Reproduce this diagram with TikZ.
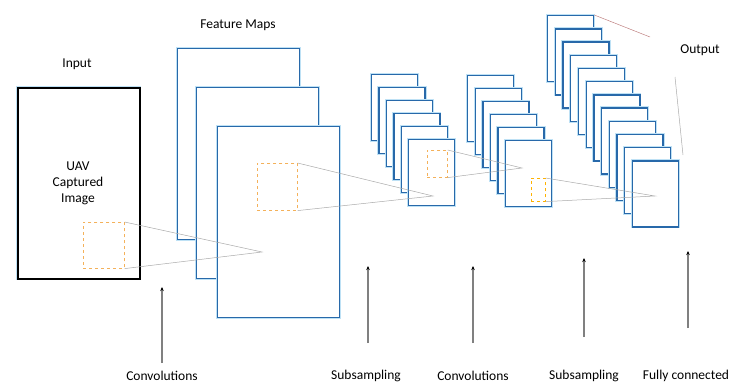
\documentclass[tikz,border=0pt]{standalone}
\usepackage{fontspec}
\setmainfont{Carlito}
\usetikzlibrary{arrows.meta}
\definecolor{mapblue}{RGB}{40,105,170}
\definecolor{mapglow}{RGB}{190,225,245}
\definecolor{patchorange}{RGB}{244,177,90}
\definecolor{projgray}{RGB}{170,170,170}
\tikzset{
  fmap/.style={draw=mapblue, line width=1.3pt, fill=white, inner sep=0pt,
    preaction={draw=mapglow, line width=3.2pt},
    anchor=north west, minimum width=122pt, minimum height=191pt},
  smap/.style={fmap, minimum width=46pt, minimum height=66pt},
  patch/.style={draw=patchorange, dashed, line width=0.6pt, inner sep=0pt, anchor=north west},
  proj/.style={draw=projgray, line width=0.5pt},
  lbl/.style={font=\fontsize{13.5}{16}\selectfont, inner sep=0pt},
  uparrow/.style={draw=gray, line width=1.3pt, -{Stealth[length=4pt,width=3.5pt,black]}}
}
\begin{document}
\begin{tikzpicture}[x=1pt,y=-1pt]
\useasboundingbox (0,0) rectangle (729,386);
\node[fmap, draw=black, line width=1.6pt, preaction={draw=none}] (in) at (17,87) {};
\node[lbl] (inlbl) at (77,64) {Input};
\node[lbl, align=center] (uav) at (78,183) {UAV\\Captured\\Image};
\node[fmap] (f1) at (177,48) {};
\node[fmap] (f2) at (196,87) {};
\node[fmap] (f3) at (217,126) {};
\node[lbl] (fmlbl) at (238,25) {Feature Maps};
\foreach \i in {0,...,5}
  \node[smap] (a\i) at ({371+7.4*\i},{74+13*\i}) {};
\foreach \i in {0,...,5}
  \node[smap] (b\i) at ({467+7.6*\i},{75+13*\i}) {};
\foreach \i in {0,...,11}
  \node[smap] (c\i) at ({547+7.7*\i},{15+13.2*\i}) {};
\node[patch, minimum width=41pt, minimum height=46pt] (p0) at (83,222) {};
\node[patch, minimum width=40pt, minimum height=47pt] (p1) at (257,163) {};
\node[patch, minimum width=20pt, minimum height=27pt] (p2) at (427,150) {};
\node[patch, draw=orange!60!yellow, minimum width=14pt, minimum height=23pt] (p3) at (531,178) {};
\coordinate (k1) at (262,252);
\coordinate (k2) at (433,196);
\coordinate (k3) at (522,168);
\coordinate (k4) at (655,196);
\draw[proj] (p0.north east) -- (k1) -- (p0.south east);
\draw[proj] (p1.north east) -- (k2) -- (p1.south east);
\draw[proj] (p2.north east) -- (k3) -- (p2.south east);
\draw[proj] (p3.north east) -- (k4) -- (p3.south east);
\node[lbl] (outlbl) at (700,50) {Output};
\coordinate (o1) at (650,37);
\coordinate (o2) at (675,77);
\coordinate (o3) at (683,155);
\draw[proj, draw=red!25!projgray] (c0.north east) -- (o1);
\draw[proj] (o2) -- (o3);
\node[lbl] (l1) at (162,376) {Convolutions};
\node[lbl] (l2) at (366,376) {Subsampling};
\node[lbl] (l3) at (473,376) {Convolutions};
\node[lbl] (l4) at (584,376) {Subsampling};
\node[lbl] (l5) at (686,376) {Fully connected};
\coordinate (t1) at (162,287); \coordinate (s1) at (162,363);
\coordinate (t2) at (368,266); \coordinate (s2) at (368,343);
\coordinate (t3) at (473,266); \coordinate (s3) at (473,343);
\coordinate (t4) at (584,258); \coordinate (s4) at (584,337);
\coordinate (t5) at (688,251); \coordinate (s5) at (688,328);
\foreach \i in {1,...,5}
  \draw[uparrow] (s\i) -- (t\i);
\end{tikzpicture}
\end{document}
